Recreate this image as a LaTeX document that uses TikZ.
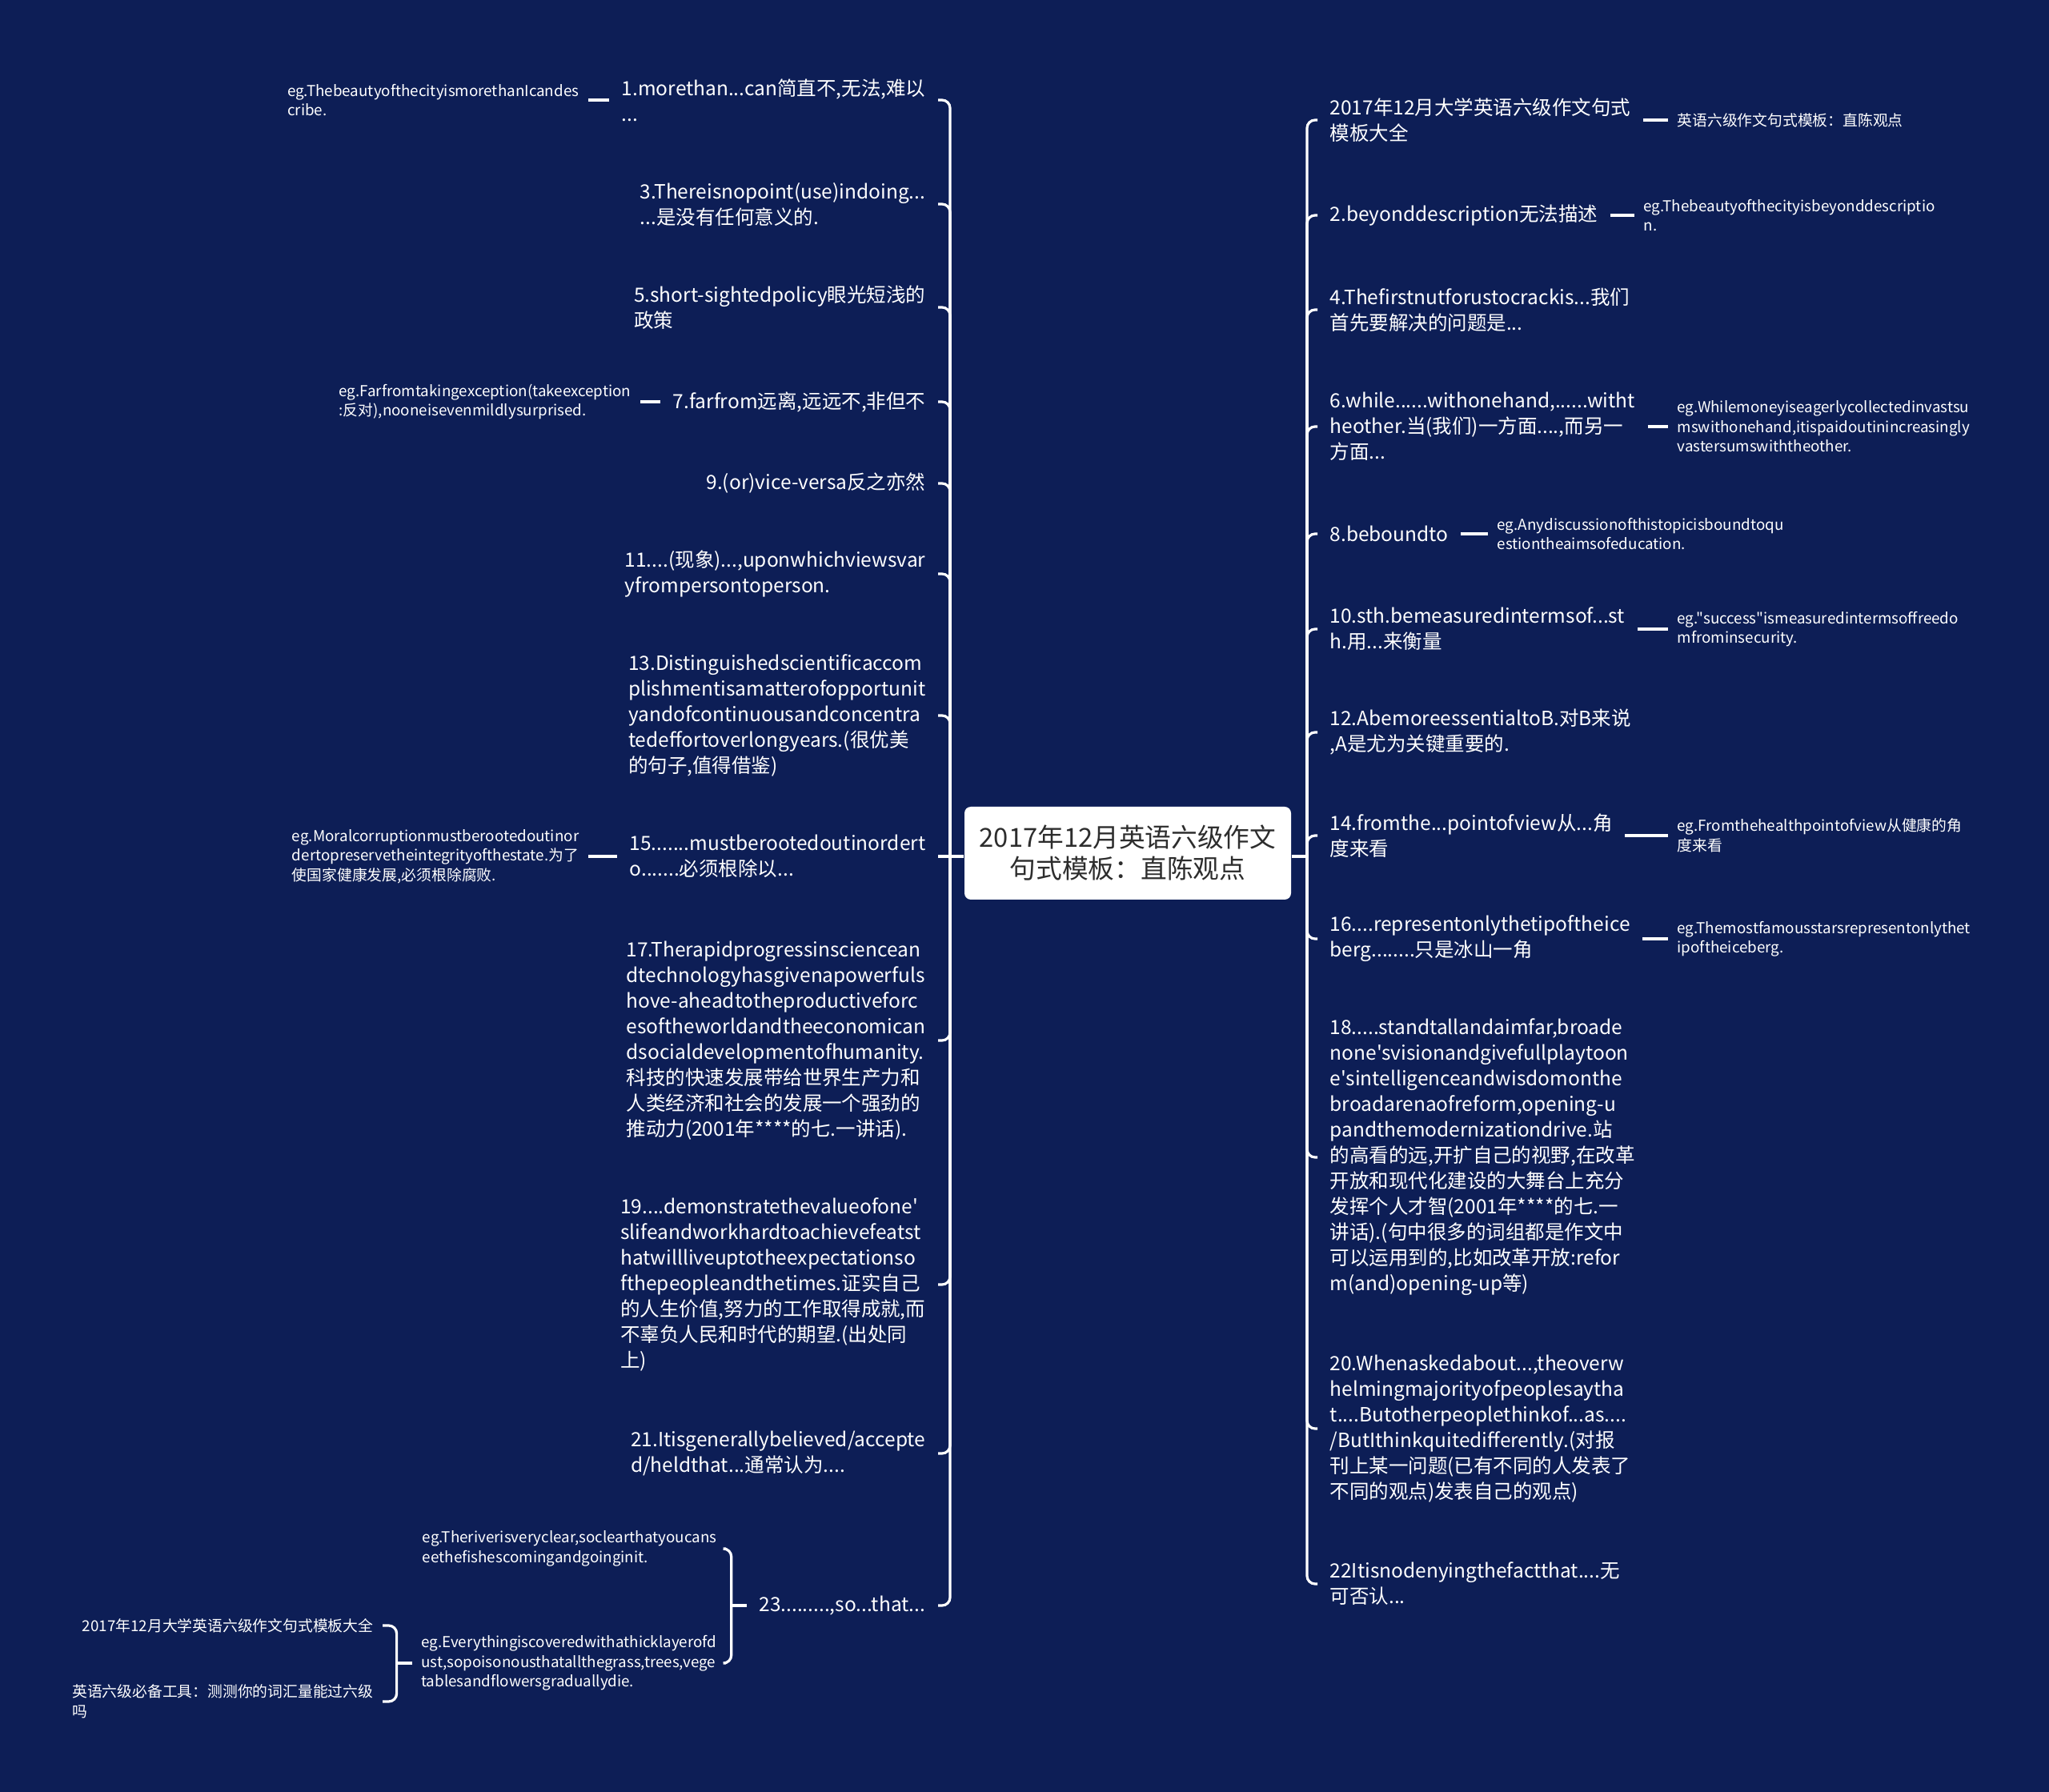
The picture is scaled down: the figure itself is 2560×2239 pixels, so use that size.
\documentclass[tikz,border=0pt]{standalone}
\usepackage{fontspec}
\newfontfamily\yh{Noto Sans CJK SC}
\definecolor{bgblue}{RGB}{13,30,86}
\definecolor{boxtext}{RGB}{45,45,45}

\begin{document}
\begin{tikzpicture}[x=0.1mm,y=-0.1mm]
      \tikzstyle{every node}=[font=\yh,text=white,inner ysep=0pt];
      \tikzstyle{mainbox}=[fill=white,text=boxtext,rounded corners=0.8mm,align=center,minimum width=40.8mm,minimum height=11.6mm,font=\yh\fontsize{9.3pt}{11.1pt}\selectfont];
      \tikzstyle{topic}=[align=left,inner xsep=1.5mm,font=\yh\fontsize{6.97pt}{9.1pt}\selectfont];
      \tikzstyle{note}=[align=left,inner xsep=1.1mm,font=\yh\fontsize{5.35pt}{6.97pt}\selectfont];
      \tikzstyle{link}=[draw=white,line width=0.32mm,rounded corners=1mm];

        \useasboundingbox (0,0) rectangle (2560,2239);
        \fill[bgblue] (0,0) rectangle (2560,2239);

        % centre
        \path (1409,1066) node[mainbox] (c) {2017年12月英语六级作文\\句式模板：直陈观点};
        \coordinate (lt) at (1187,1070);
        \coordinate (rt) at (1633,1070);

        % left side
        \path (1172,125)  node[topic,anchor=east] (l1) {1.morethan...can简直不,无法,难以\\...};
        \path (1172,255)  node[topic,anchor=east] (l3) {3.Thereisnopoint(use)indoing...\\...是没有任何意义的.};
        \path (1172,384)  node[topic,anchor=east] (l5) {5.short-sightedpolicy眼光短浅的\\政策};
        \path (1172,502)  node[topic,anchor=east] (l7) {7.farfrom远离,远远不,非但不};
        \path (1172,604)  node[topic,anchor=east] (l9) {9.(or)vice-versa反之亦然};
        \path (1172,717)  node[topic,anchor=east] (l11) {11....(现象)...,uponwhichviewsvar\\yfrompersontoperson.};
        \path (1172,894)  node[topic,anchor=east] (l13) {13.Distinguishedscientificaccom\\plishmentisamatterofopportunit\\yandofcontinuousandconcentra\\tedeffortoverlongyears.(很优美\\的句子,值得借鉴)};
        \path (1172,1070) node[topic,anchor=east] (l15) {15.......mustberootedoutinordert\\o.......必须根除以...};
        \path (1172,1300) node[topic,anchor=east] (l17) {17.Therapidprogressinsciencean\\dtechnologyhasgivenapowerfuls\\hove-aheadtotheproductiveforc\\esoftheworldandtheeconomican\\dsocialdevelopmentofhumanity.\\科技的快速发展带给世界生产力和\\人类经济和社会的发展一个强劲的\\推动力(2001年****的七.一讲话).};
        \path (1172,1605) node[topic,anchor=east] (l19) {19....demonstratethevalueofone'\\slifeandworkhardtoachievefeatst\\hatwillliveuptotheexpectationso\\fthepeopleandthetimes.证实自己\\的人生价值,努力的工作取得成就,而\\不辜负人民和时代的期望.(出处同\\上)};
        \path (1172,1816) node[topic,anchor=east] (l21) {21.Itisgenerallybelieved/accepte\\d/heldthat...通常认为....};
        \path (1172,2006) node[topic,anchor=east] (l23) {23.........,so...that...};

        \path (735,125)   node[note,anchor=east] (e1) {eg.ThebeautyofthecityismorethanIcandes\\cribe.};
        \path (800,502)   node[note,anchor=east] (e7) {eg.Farfromtakingexception(takeexception\\:反对),nooneisevenmildlysurprised.};
        \path (735,1070)  node[note,anchor=east] (e15) {eg.Moralcorruptionmustberootedoutinor\\dertopreservetheintegrityofthestate.为了\\使国家健康发展,必须根除腐败.};
        \path (907,1935)  node[note,anchor=east] (e23a) {eg.Theriverisveryclear,soclearthatyoucans\\eethefishescomingandgoinginit.};
        \path (907,2078)  node[note,anchor=east] (e23b) {eg.Everythingiscoveredwithathicklayerofd\\ust,sopoisonousthatallthegrass,trees,vege\\tablesandflowersgraduallydie.};
        \path (478,2031)  node[note,anchor=east] (f1) {2017年12月大学英语六级作文句式模板大全};
        \path (478,2126)  node[note,anchor=east] (f2) {英语六级必备工具：测测你的词汇量能过六级\\吗};

        % right side
        \path (1646,150)  node[topic,anchor=west] (r1) {2017年12月大学英语六级作文句式\\模板大全};
        \path (1646,269)  node[topic,anchor=west] (r2) {2.beyonddescription无法描述};
        \path (1646,387)  node[topic,anchor=west] (r4) {4.Thefirstnutforustocrackis...我们\\首先要解决的问题是...};
        \path (1646,533)  node[topic,anchor=west] (r6) {6.while......withonehand,......witht\\heother.当(我们)一方面....,而另一\\方面...};
        \path (1646,667)  node[topic,anchor=west] (r8) {8.beboundto};
        \path (1646,786)  node[topic,anchor=west] (r10) {10.sth.bemeasuredintermsof...st\\h.用...来衡量};
        \path (1646,915)  node[topic,anchor=west] (r12) {12.AbemoreessentialtoB.对B来说\\,A是尤为关键重要的.};
        \path (1646,1044) node[topic,anchor=west] (r14) {14.fromthe...pointofview从...角\\度来看};
        \path (1646,1173) node[topic,anchor=west] (r16) {16....representonlythetipoftheice\\berg........只是冰山一角};
        \path (1646,1446) node[topic,anchor=west] (r18) {18.....standtallandaimfar,broade\\none'svisionandgivefullplaytoon\\e'sintelligenceandwisdomonthe\\broadarenaofreform,opening-u\\pandthemodernizationdrive.站\\的高看的远,开扩自己的视野,在改革\\开放和现代化建设的大舞台上充分\\发挥个人才智(2001年****的七.一\\讲话).(句中很多的词组都是作文中\\可以运用到的,比如改革开放:refor\\m(and)opening-up等)};
        \path (1646,1785) node[topic,anchor=west] (r20) {20.Whenaskedabout...,theoverw\\helmingmajorityofpeoplesaytha\\t....Butotherpeoplethinkof...as....\\/ButIthinkquitedifferently.(对报\\刊上某一问题(已有不同的人发表了\\不同的观点)发表自己的观点)};
        \path (1646,1979) node[topic,anchor=west] (r22) {22Itisnodenyingthefactthat....无\\可否认...};

        \path (2084,150)  node[note,anchor=west] (g1) {英语六级作文句式模板：直陈观点};
        \path (2042,269)  node[note,anchor=west] (g2) {eg.Thebeautyofthecityisbeyonddescriptio\\n.};
        \path (2084,533)  node[note,anchor=west] (g6) {eg.Whilemoneyiseagerlycollectedinvastsu\\mswithonehand,itispaidoutinincreasingly\\vastersumswiththeother.};
        \path (1859,667)  node[note,anchor=west] (g8) {eg.Anydiscussionofthistopicisboundtoqu\\estiontheaimsofeducation.};
        \path (2084,786)  node[note,anchor=west] (g10) {eg."success"ismeasuredintermsoffreedo\\mfrominsecurity.};
        \path (2084,1044) node[note,anchor=west] (g14) {eg.Fromthehealthpointofview从健康的角\\度来看};
        \path (2084,1173) node[note,anchor=west] (g16) {eg.Themostfamousstarsrepresentonlythet\\ipoftheiceberg.};

        % connectors
        \path[link] (c.west |- lt) -- (lt);
        \path[link] (lt) |- (l1.east);
        \path[link] (lt) |- (l3.east);
        \path[link] (lt) |- (l5.east);
        \path[link] (lt) |- (l7.east);
        \path[link] (lt) |- (l9.east);
        \path[link] (lt) |- (l11.east);
        \path[link] (lt) |- (l13.east);
        \path[link] (lt) -- (l15.east);
        \path[link] (lt) |- (l17.east);
        \path[link] (lt) |- (l19.east);
        \path[link] (lt) |- (l21.east);
        \path[link] (lt) |- (l23.east);

        \path[link] (l1.west) -- (e1.east);
        \path[link] (l7.west) -- (e7.east);
        \path[link] (l15.west) -- (e15.east);
        \path (l23.west) ++(-19,0) coordinate (b1);
        \path[link] (l23.west) -- (b1);
        \path[link] (b1) |- (e23a.east);
        \path[link] (b1) |- (e23b.east);
        \path (e23b.west) ++(-19,0) coordinate (b2);
        \path[link] (e23b.west) -- (b2);
        \path[link] (b2) |- (f1.east);
        \path[link] (b2) |- (f2.east);

        \path[link] (c.east |- rt) -- (rt);
        \path[link] (rt) |- (r1.west);
        \path[link] (rt) |- (r2.west);
        \path[link] (rt) |- (r4.west);
        \path[link] (rt) |- (r6.west);
        \path[link] (rt) |- (r8.west);
        \path[link] (rt) |- (r10.west);
        \path[link] (rt) |- (r12.west);
        \path[link] (rt) |- (r14.west);
        \path[link] (rt) |- (r16.west);
        \path[link] (rt) |- (r18.west);
        \path[link] (rt) |- (r20.west);
        \path[link] (rt) |- (r22.west);

        \path[link] (r1.east) -- (g1.west);
        \path[link] (r2.east) -- (g2.west);
        \path[link] (r6.east) -- (g6.west);
        \path[link] (r8.east) -- (g8.west);
        \path[link] (r10.east) -- (g10.west);
        \path[link] (r14.east) -- (g14.west);
        \path[link] (r16.east) -- (g16.west);
    \end{tikzpicture}
\end{document}
